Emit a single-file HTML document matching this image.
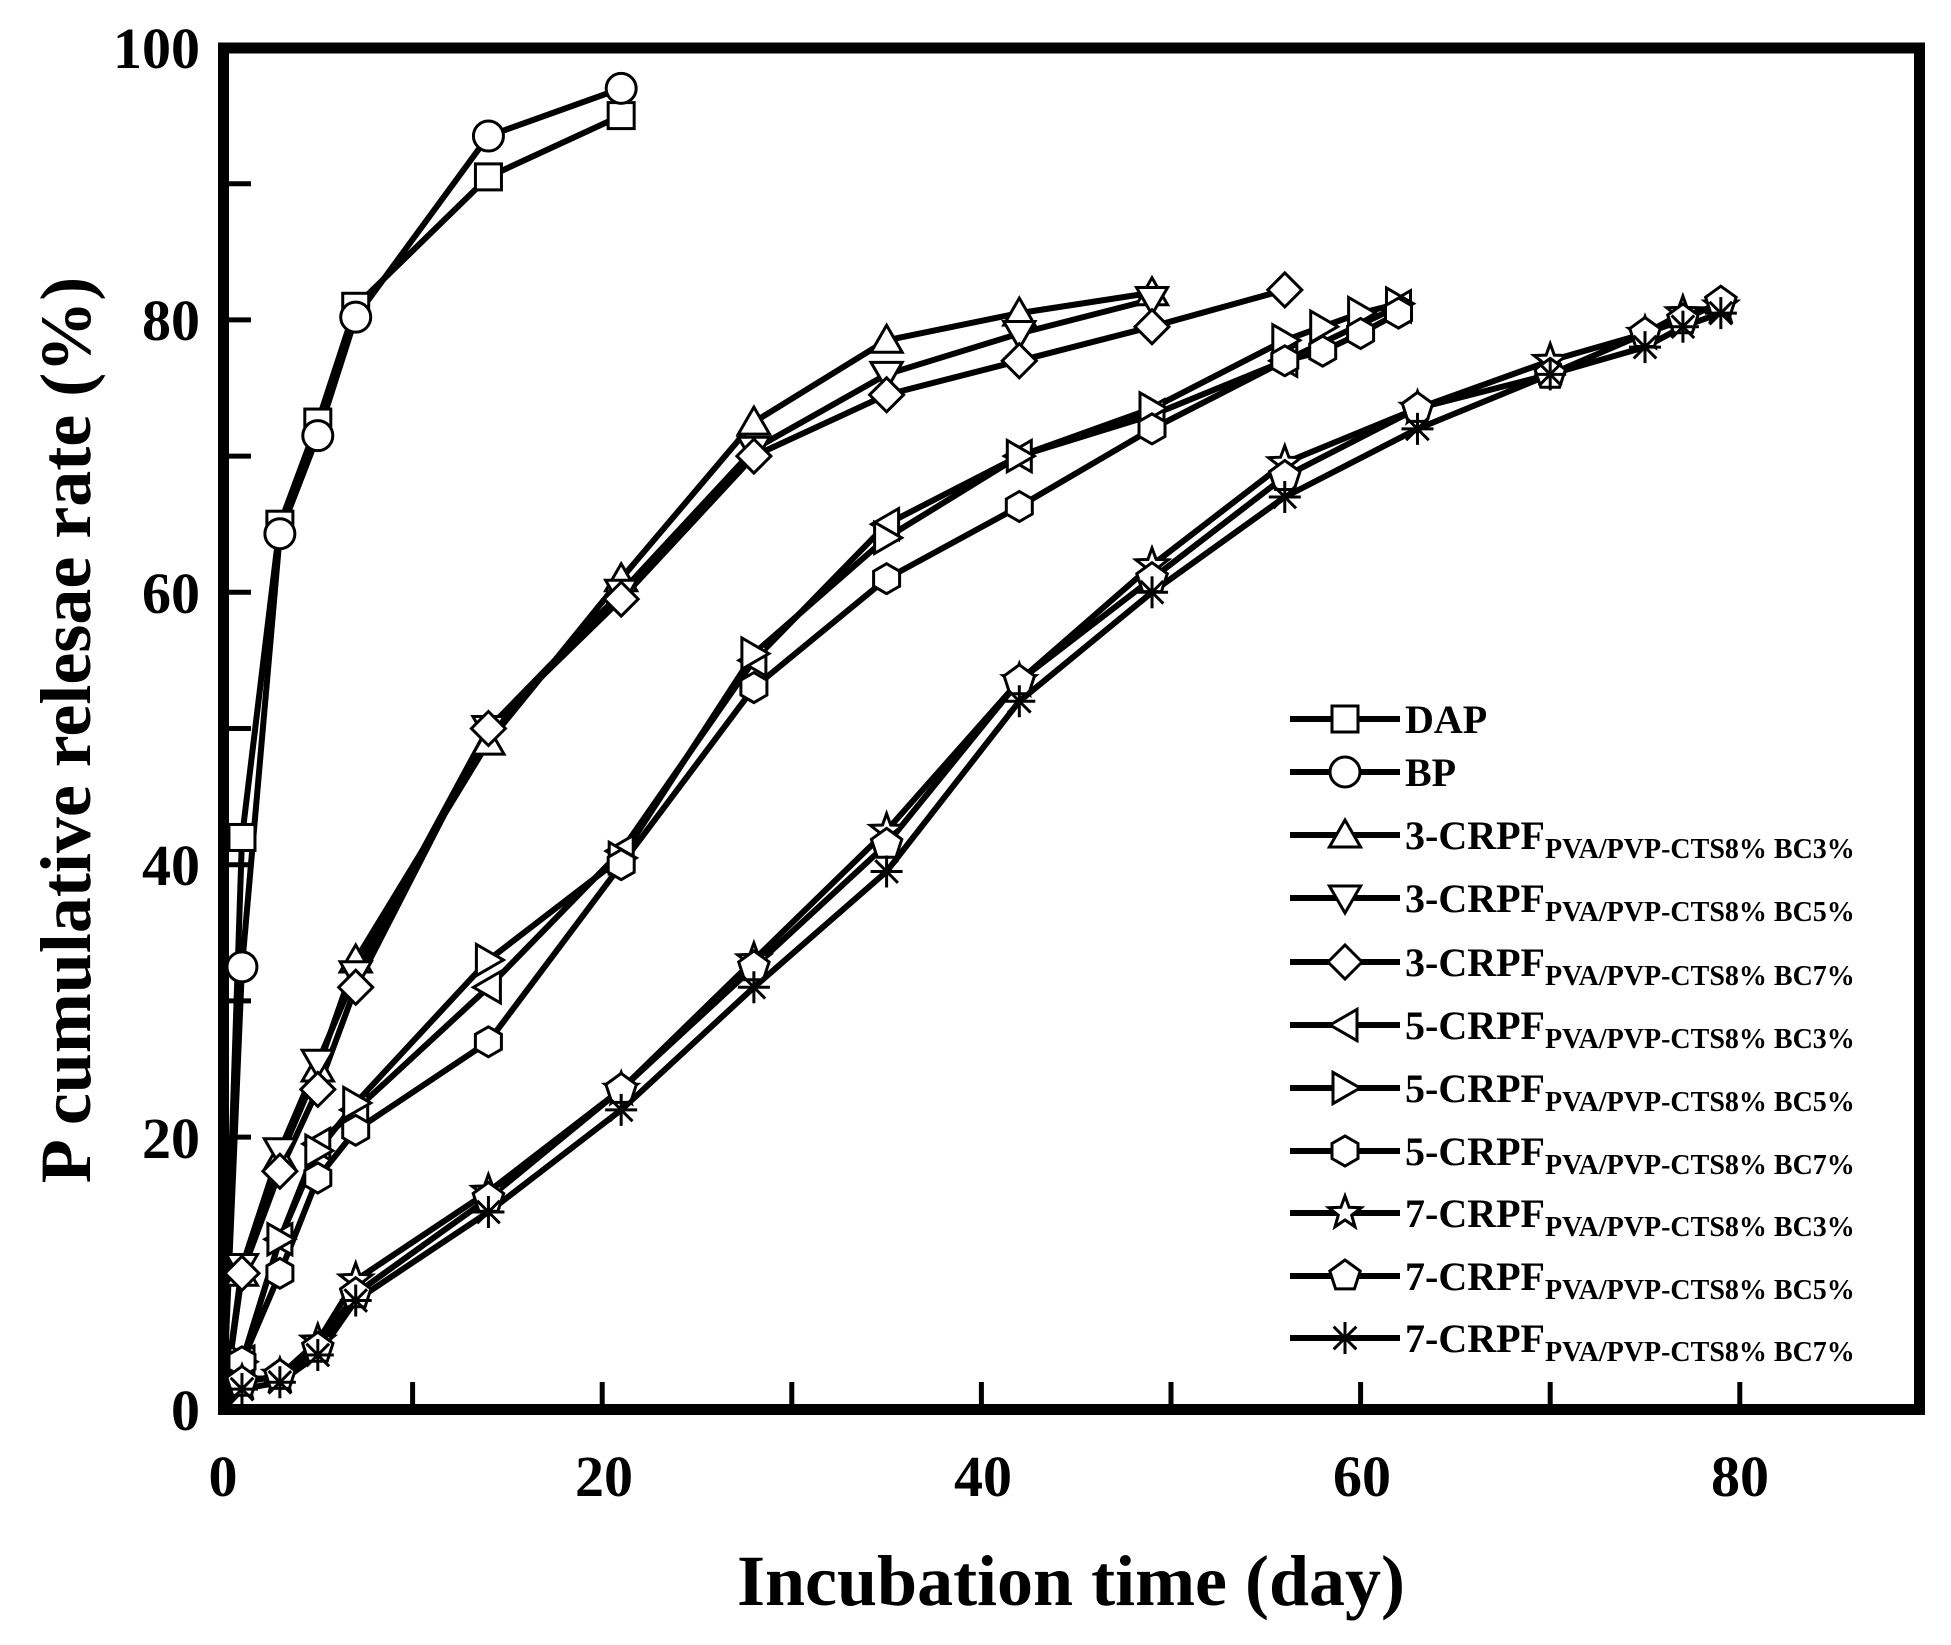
<!DOCTYPE html>
<html><head><meta charset="utf-8"><style>
html,body{margin:0;padding:0;background:#fff}
svg text{font-family:"Liberation Serif",serif;font-weight:bold;fill:#000}
</style></head><body>
<svg id="s" width="1951" height="1640" viewBox="0 0 1951 1640" xmlns="http://www.w3.org/2000/svg">
<rect x="223.5" y="48" width="1696" height="1361.5" fill="none" stroke="#000" stroke-width="11"/>
<g id="ticks" stroke="#000" stroke-width="5"></g>
<g id="series"></g>
<g font-size="58" text-anchor="middle">
<text x="223" y="1496">0</text><text x="604" y="1496">20</text><text x="983" y="1496">40</text><text x="1362" y="1496">60</text><text x="1740" y="1496">80</text>
</g>
<g font-size="58" text-anchor="end">
<text x="200" y="1430">0</text><text x="200" y="1158">20</text><text x="200" y="885">40</text><text x="200" y="613">60</text><text x="200" y="340">80</text><text x="200" y="68">100</text>
</g>
<text x="1071" y="1605" font-size="72" text-anchor="middle">Incubation time (day)</text>
<text transform="translate(90,730) rotate(-90)" font-size="72" text-anchor="middle">P cumulative relesae rate (%)</text>
<g id="leg"></g>
<g font-size="40">
<text x="1405" y="733">DAP</text>
<text x="1405" y="786">BP</text>
<text x="1405" y="849">3-CRPF<tspan font-size="28" dy="9">PVA/PVP-CTS8% BC3%</tspan></text>
<text x="1405" y="912">3-CRPF<tspan font-size="28" dy="9">PVA/PVP-CTS8% BC5%</tspan></text>
<text x="1405" y="976">3-CRPF<tspan font-size="28" dy="9">PVA/PVP-CTS8% BC7%</tspan></text>
<text x="1405" y="1039">5-CRPF<tspan font-size="28" dy="9">PVA/PVP-CTS8% BC3%</tspan></text>
<text x="1405" y="1102">5-CRPF<tspan font-size="28" dy="9">PVA/PVP-CTS8% BC5%</tspan></text>
<text x="1405" y="1165">5-CRPF<tspan font-size="28" dy="9">PVA/PVP-CTS8% BC7%</tspan></text>
<text x="1405" y="1227">7-CRPF<tspan font-size="28" dy="9">PVA/PVP-CTS8% BC3%</tspan></text>
<text x="1405" y="1290">7-CRPF<tspan font-size="28" dy="9">PVA/PVP-CTS8% BC5%</tspan></text>
<text x="1405" y="1352">7-CRPF<tspan font-size="28" dy="9">PVA/PVP-CTS8% BC7%</tspan></text>
</g>
</svg>
<script>
var NS="http://www.w3.org/2000/svg";
function X(t){return 223+18.96*t}
function Y(v){return 1409.5-13.62*v}
function el(n,a,p){var e=document.createElementNS(NS,n);for(var k in a)e.setAttribute(k,a[k]);p.appendChild(e);return e}
var tk=document.getElementById('ticks');
for(var t=10;t<=80;t+=10){var x=X(t);el('line',{x1:x,y1:1404,x2:x,y2:1382},tk);}
for(var v=10;v<=90;v+=10){var y=Y(v);el('line',{x1:229,y1:y,x2:251,y2:y},tk);}
function poly(cx,cy,n,r,rot){var p=[];for(var i=0;i<n;i++){var a=rot+i*2*Math.PI/n;p.push((cx+r*Math.cos(a)).toFixed(1)+','+(cy+r*Math.sin(a)).toFixed(1));}return p.join(' ');}
function marker(type,cx,cy,g){
 var st={fill:'#fff',stroke:'#000','stroke-width':3};
 function P(pts){var a=Object.assign({points:pts},st);el('polygon',a,g);}
 switch(type){
 case 'sq':el('rect',Object.assign({x:cx-13,y:cy-13,width:26,height:26},st),g);break;
 case 'ci':el('circle',Object.assign({cx:cx,cy:cy,r:15},st),g);break;
 case 'tu':P(poly(cx,cy+3,3,18,-Math.PI/2));break;
 case 'td':P(poly(cx,cy-3,3,18,Math.PI/2));break;
 case 'di':P(poly(cx,cy,4,17,0));break;
 case 'tl':P(poly(cx+3,cy,3,18,Math.PI));break;
 case 'tr':P(poly(cx-3,cy,3,18,0));break;
 case 'hx':P(poly(cx,cy,6,15,Math.PI/6));break;
 case 'st':var p=[];for(var i=0;i<10;i++){var a=-Math.PI/2+i*Math.PI/5,r=i%2?7:17;p.push((cx+r*Math.cos(a)).toFixed(1)+','+(cy+r*Math.sin(a)).toFixed(1));}P(p.join(' '));break;
 case 'pe':P(poly(cx,cy,5,16,-Math.PI/2));break;
 case 'as':for(var i=0;i<4;i++){var a=i*Math.PI/4+Math.PI/2;el('line',{x1:cx-16*Math.cos(a),y1:cy-16*Math.sin(a),x2:cx+16*Math.cos(a),y2:cy+16*Math.sin(a),stroke:'#000','stroke-width':3},g);}break;
 }
}
var D=[
['sq',[[0,0],[1,42],[3,65],[5,72.5],[7,81],[14,90.5],[21,95]]],
['ci',[[0,0],[1,32.5],[3,64.3],[5,71.5],[7,80.2],[14,93.5],[21,97]]],
['tu',[[0,0],[1,10],[3,18.5],[5,25],[7,33],[14,49],[21,61],[28,72.5],[35,78.5],[42,80.5],[49,82]]],
['td',[[0,0],[1,10.5],[3,19],[5,25.5],[7,32],[14,50],[21,60],[28,70.5],[35,76],[42,79],[49,81.5]]],
['di',[[0,0],[1,10],[3,17.5],[5,23.5],[7,31],[14,50],[21,59.5],[28,70],[35,74.5],[42,77],[49,79.5],[56,82.2]]],
['tl',[[0,0],[1,3.5],[3,12.5],[5,19.5],[7,22],[14,31],[21,41],[28,55],[35,65],[42,70],[49,73],[56,77],[62,81]]],
['tr',[[0,0],[1,3.5],[3,12.5],[5,19],[7,22.5],[14,33],[21,40.5],[28,55.5],[35,64],[42,70],[49,73.5],[56,78.5],[58,79.5],[60,80.5],[62,81.2]]],
['hx',[[0,0],[1,3.5],[3,10],[5,17],[7,20.5],[14,27],[21,40],[28,53],[35,61],[42,66.3],[49,72],[56,77],[58,77.7],[60,79],[62,80.5]]],
['st',[[0,0],[1,2],[3,2.5],[5,5],[7,9.5],[14,16],[21,23.5],[28,33],[35,42.5],[42,53.5],[49,62],[56,69.5],[63,73.5],[70,77],[75,79],[77,80.5],[79,81]]],
['pe',[[0,0],[1,2],[3,2.5],[5,4.5],[7,8.5],[14,15.5],[21,23.5],[28,32.5],[35,41.5],[42,53.5],[49,61],[56,68.5],[63,73.5],[70,76],[75,79],[77,80],[79,81.3]]],
['as',[[0,0],[1,1.5],[3,2],[5,4],[7,8],[14,14.5],[21,22],[28,31],[35,39.5],[42,52],[49,60],[56,67],[63,72],[70,76],[75,78],[77,79.5],[79,80.5]]]
];
var sg=document.getElementById('series');
D.forEach(function(s){
 el('polyline',{points:s[1].map(function(p){return X(p[0]).toFixed(1)+','+Y(p[1]).toFixed(1)}).join(' '),fill:'none',stroke:'#000','stroke-width':6,'stroke-linejoin':'round'},sg);
});
D.forEach(function(s){var g=el('g',{},sg);s[1].forEach(function(p,i){if(i>0||p[1]>0)marker(s[0],X(p[0]),Y(p[1]),g);});});
var lg=document.getElementById('leg');
var rows=[719,772,835,898,962,1025,1088,1151,1213,1276,1338];
D.forEach(function(s,i){var y=rows[i];el('line',{x1:1290,y1:y,x2:1400,y2:y,stroke:'#000','stroke-width':6},lg);marker(s[0],1345,y,lg);});
</script>
</body></html>
